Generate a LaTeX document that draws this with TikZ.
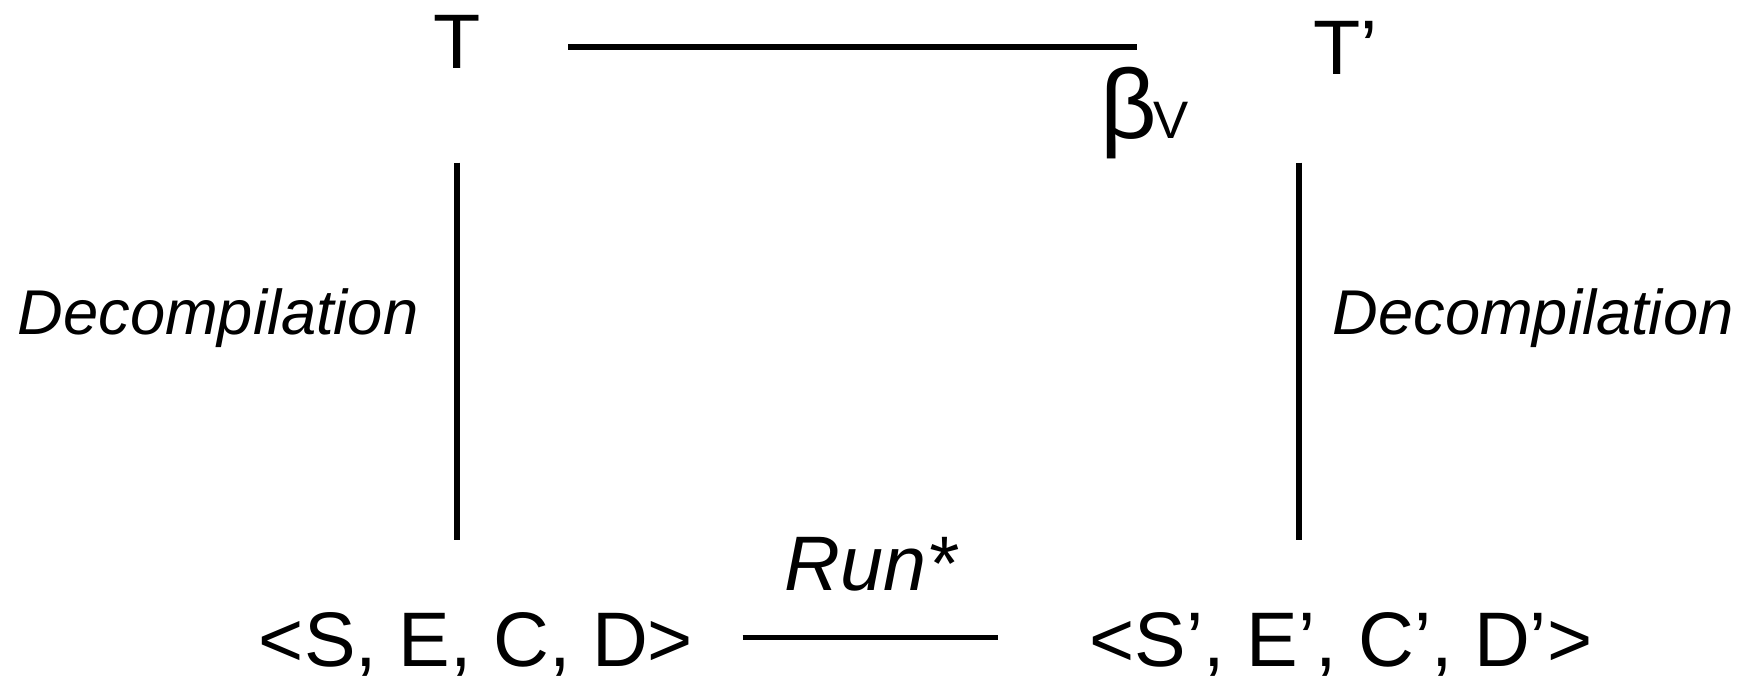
\documentclass[tikz,border=0pt]{standalone}
\usepackage{fontspec}
\setmainfont{Liberation Sans}
\usetikzlibrary{calc}
\tikzset{
  term/.style = {font=\fontsize{22}{26}\selectfont, inner sep=0pt},
  lbl/.style  = {font=\fontsize{18}{22}\selectfont\itshape, inner sep=0pt},
  L/.style    = {line width=1.5pt},
}

\begin{document}
\begin{tikzpicture}
\useasboundingbox (0,0) rectangle (17.49,-6.82);

%% ─── Top row ─────────────────────────────────────────────
\node[term, anchor=base] (T) at (4.57,-0.69) {T};
\node[term, anchor=base west] (Tp) at (13.13,-0.75) {T’};
\node[anchor=base west, inner sep=0pt] (beta) at (11.0,-1.39)
  {\fontsize{28}{32}\selectfont β\kern-1pt\fontsize{15}{18}\selectfont V};

\draw[L, shorten <=0.87cm, shorten >=1.76cm]
  ($(T.east)+(0,-0.045)$) -- ($(Tp.west |- T.east)+(0,-0.045)$);

%% ─── Bottom row ──────────────────────────────────────────
\node[term, anchor=base] (tup)  at (4.76,-6.67)  {<S, E, C, D>};
\node[term, anchor=base] (tupp) at (13.41,-6.67) {<S’, E’, C’, D’>};

\draw[L, shorten <=0.49cm, shorten >=0.91cm]
  ($(tup.east)+(0,0.075)$) --
  node[pos=0.447, above=0.44cm, lbl, font=\fontsize{22}{26}\selectfont\itshape] (run) {Run*}
  ($(tupp.west)+(0,0.075)$);

%% ─── Decompilation sides ─────────────────────────────────
\node[lbl, anchor=base] (dcL) at (2.18,-3.35)  {Decompilation};
\node[lbl, anchor=base] (dcR) at (15.33,-3.35) {Decompilation};

\draw[L, shorten <=0.93cm, shorten >=0.72cm] (T.south) -- (T.south |- tup.north);

\coordinate (rTop) at ($(Tp.south west)+(-0.14,0)$);
\draw[L, shorten <=0.87cm, shorten >=0.72cm] (rTop) -- (rTop |- tupp.north);

\end{tikzpicture}
\end{document}
